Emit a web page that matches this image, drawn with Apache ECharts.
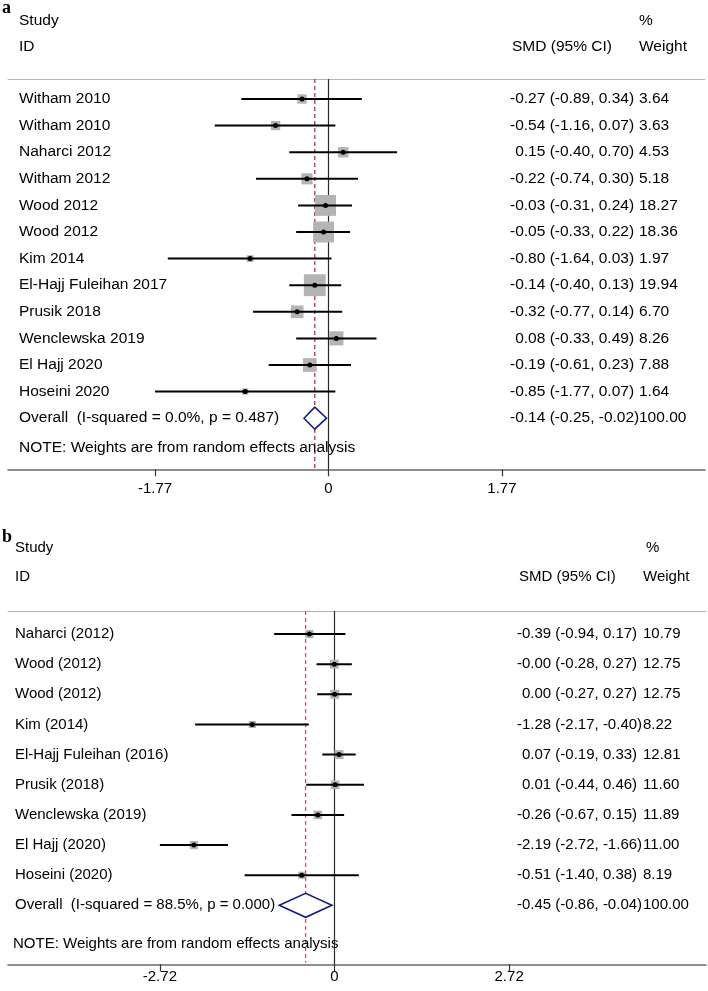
<!DOCTYPE html>
<html><head><meta charset="utf-8">
<script src="https://cdn.jsdelivr.net/npm/echarts@6/dist/echarts.min.js"></script>
<style>html,body{margin:0;padding:0;background:#fff}#c{width:708px;height:991px}</style>
</head><body><div id="c"></div>
<script>
// ---------- Panel a data ----------
const aStudies = ['Witham 2010','Witham 2010','Naharci 2012','Witham 2012','Wood 2012','Wood 2012','Kim 2014','El-Hajj Fuleihan 2017','Prusik 2018','Wenclewska 2019','El Hajj 2020','Hoseini 2020'];
const aEst = [-0.27,-0.54,0.15,-0.22,-0.03,-0.05,-0.80,-0.14,-0.32,0.08,-0.19,-0.85];
const aLo  = [-0.89,-1.16,-0.40,-0.74,-0.31,-0.33,-1.64,-0.40,-0.77,-0.33,-0.61,-1.77];
const aHi  = [0.34,0.07,0.70,0.30,0.24,0.22,0.03,0.13,0.14,0.49,0.23,0.07];
const aWeight = [3.64,3.63,4.53,5.18,18.27,18.36,1.97,19.94,6.70,8.26,7.88,1.64];
const aOverallLabel = 'Overall  (I-squared = 0.0%, p = 0.487)';
const aOverall = [-0.14,-0.25,-0.02,100.00]; // est, lo, hi, weight
const aTicks = [-1.77, 0, 1.77];

// ---------- Panel b data ----------
const bStudies = ['Naharci (2012)','Wood (2012)','Wood (2012)','Kim (2014)','El-Hajj Fuleihan (2016)','Prusik (2018)','Wenclewska (2019)','El Hajj (2020)','Hoseini (2020)'];
const bEst = [-0.39,-0.003,0.003,-1.28,0.07,0.01,-0.26,-2.19,-0.51];
const bLo  = [-0.94,-0.28,-0.27,-2.17,-0.19,-0.44,-0.67,-2.72,-1.40];
const bHi  = [0.17,0.27,0.27,-0.40,0.33,0.46,0.15,-1.66,0.38];
const bWeight = [10.79,12.75,12.75,8.22,12.81,11.60,11.89,11.00,8.19];
const bOverallLabel = 'Overall  (I-squared = 88.5%, p = 0.000)';
const bOverall = [-0.45,-0.86,-0.04,100.00];
const bTicks = [-2.72, 0, 2.72];

// ---------- shared text ----------
const headStudy = 'Study', headID = 'ID', headPct = '%', headSMD = 'SMD (95% CI)', headWeight = 'Weight';
const noteText = 'NOTE: Weights are from random effects analysis';

const FONT = '"Liberation Sans", Arial, sans-serif';

// ---------- layout (pixels) ----------
const PA = {letter:'a', letterY:8, gridL:8, gridR:705, top:79, bottom:469.3, zeroX:328.5, ppu:98,
  row0:99, step:26.6, nameX:19, ciX:510, wX:639, pctX:639, headY1:21, headY2:47, noteY:448, noteX:19,
  boxK:4.9, dotR:2.5, diaH:11, fs:15.5, dash:'#a8343f', labelMargin:12,
  names:aStudies, est:aEst, lo:aLo, hi:aHi, w:aWeight, ovLabel:aOverallLabel, ov:aOverall, ticks:aTicks};
const PB = {letter:'b', letterY:537, gridL:8, gridR:706, top:611, bottom:964.3, zeroX:334.5, ppu:64.2,
  row0:634, step:30.15, nameX:15, ciX:517, wX:643, pctX:646, headY1:548, headY2:577, noteY:944, noteX:13,
  boxK:2.5, dotR:2.5, diaH:12, fs:15, dash:'#b25a66', labelMargin:5,
  names:bStudies, est:bEst, lo:bLo, hi:bHi, w:bWeight, ovLabel:bOverallLabel, ov:bOverall, ticks:bTicks};

const mctx = document.createElement('canvas').getContext('2d');
function tw(s, fs){ mctx.font = fs + 'px ' + FONT; return mctx.measureText(s).width; }
const f2 = v => v.toFixed(2);

const chart = echarts.init(document.getElementById('c'), null, {renderer:'canvas'});
const grids = [], xAxes = [], yAxes = [], series = [], graphics = [];

[PA, PB].forEach((P, k) => {
  const xmin = (P.gridL - P.zeroX) / P.ppu, xmax = (P.gridR - P.zeroX) / P.ppu;
  const ymin = (P.top - P.row0) / P.step, ymax = (P.bottom - P.row0) / P.step;
  grids.push({left:P.gridL, width:P.gridR - P.gridL, top:P.top, height:P.bottom - P.top});
  // bottom axis
  xAxes.push({type:'value', gridIndex:k, position:'bottom', min:xmin, max:xmax,
    axisLine:{show:true, onZero:false, lineStyle:{color:'#6a6a6a', width:1.6}},
    axisTick:{show:true, customValues:P.ticks, length:7, lineStyle:{color:'#333', width:1.2}},
    axisLabel:{customValues:P.ticks, margin:P.labelMargin, fontSize:15, fontFamily:FONT, color:'#000',
      formatter: v => (v === 0 ? '0' : f2(v))},
    splitLine:{show:false}});
  // top separator
  xAxes.push({type:'value', gridIndex:k, position:'top', min:xmin, max:xmax,
    axisLine:{show:true, onZero:false, lineStyle:{color:'#b5b5b5', width:1}},
    axisTick:{show:false}, axisLabel:{show:false}, splitLine:{show:false}});
  yAxes.push({type:'value', gridIndex:k, inverse:true, min:ymin, max:ymax, show:false});

  const xi = k*2, yi = k;
  // zero line
  series.push({type:'line', xAxisIndex:xi, yAxisIndex:yi, data:[[0,ymin],[0,ymax]], showSymbol:false, silent:true,
    lineStyle:{color:'#2a2a2a', width:1.2}, z:1, animation:false});
  // overall dashed line
  series.push({type:'line', xAxisIndex:xi, yAxisIndex:yi, data:[[P.ov[0],ymin],[P.ov[0],ymax - 0.05]], showSymbol:false, silent:true,
    lineStyle:{color:P.dash, width:1.3, type:[4,3]}, z:1, animation:false});

  const estRight = P.ciX + tw('-0.00', P.fs);
  const font = P.fs + 'px ' + FONT;
  const txt = (x, y, s, align) => ({type:'text', x:x, y:y, style:{text:s, font:font, fill:'#000', textAlign:align||'left', textVerticalAlign:'middle'}});

  // study rows
  series.push({type:'custom', xAxisIndex:xi, yAxisIndex:yi, z:3, animation:false, clip:false,
    data: P.names.map((n,i) => [P.est[i], i]), encode:{x:0, y:1},
    renderItem: (params, api) => {
      const i = params.dataIndex;
      const pE = api.coord([P.est[i], i]), pL = api.coord([P.lo[i], i]), pH = api.coord([P.hi[i], i]);
      const y = pE[1];
      const s = P.boxK * Math.sqrt(P.w[i]);
      return {type:'group', children:[
        {type:'rect', shape:{x:pE[0]-s/2, y:y-s/2, width:s, height:s}, style:{fill:'#b4b4b4'}},
        {type:'line', shape:{x1:pL[0], y1:y, x2:pH[0], y2:y}, style:{stroke:'#000', lineWidth:2}},
        {type:'circle', shape:{cx:pE[0], cy:y, r:P.dotR}, style:{fill:'#000'}},
        txt(P.nameX, y, P.names[i]),
        txt(estRight, y, f2(P.est[i]), 'right'),
        txt(estRight, y, ' (' + f2(P.lo[i]) + ', ' + f2(P.hi[i]) + ')'),
        txt(P.wX, y, f2(P.w[i]))
      ]};
    }});
  // overall row
  const ovRow = P.names.length;
  series.push({type:'custom', xAxisIndex:xi, yAxisIndex:yi, z:3, animation:false, clip:false,
    data:[[P.ov[0], ovRow]], encode:{x:0, y:1},
    renderItem: (params, api) => {
      const pE = api.coord([P.ov[0], ovRow]), pL = api.coord([P.ov[1], ovRow]), pH = api.coord([P.ov[2], ovRow]);
      const y = pE[1];
      return {type:'group', children:[
        {type:'polygon', shape:{points:[[pL[0],y],[pE[0],y-P.diaH],[pH[0],y],[pE[0],y+P.diaH]]},
          style:{fill:'#fff', stroke:'#1c1c78', lineWidth:1.6}},
        txt(P.nameX, y, P.ovLabel),
        txt(estRight, y, f2(P.ov[0]), 'right'),
        txt(estRight, y, ' (' + f2(P.ov[1]) + ', ' + f2(P.ov[2]) + ')'),
        txt(P.wX, y, f2(P.ov[3]))
      ]};
    }});

  const gt = (x, y, s, extra) => Object.assign({type:'text', x:x, y:y, z:10,
    style:Object.assign({text:s, font:font, fill:'#000', textAlign:'left', textVerticalAlign:'middle'}, extra||{})});
  graphics.push(gt(2, P.letterY, P.letter, {font:'bold 18px "Liberation Serif", "Times New Roman", serif', fill:'#000'}));
  graphics.push(gt(P.nameX, P.headY1, headStudy));
  graphics.push(gt(P.nameX, P.headY2, headID));
  graphics.push(gt(P.pctX, P.headY1, headPct));
  graphics.push(gt(P.ciX + 2, P.headY2, headSMD));
  graphics.push(gt(P.wX, P.headY2, headWeight));
  graphics.push(gt(P.noteX, P.noteY, noteText));
});

chart.setOption({
  animation:false,
  backgroundColor:'#fff',
  grid:grids, xAxis:xAxes, yAxis:yAxes, series:series, graphic:graphics
});
</script></body></html>
